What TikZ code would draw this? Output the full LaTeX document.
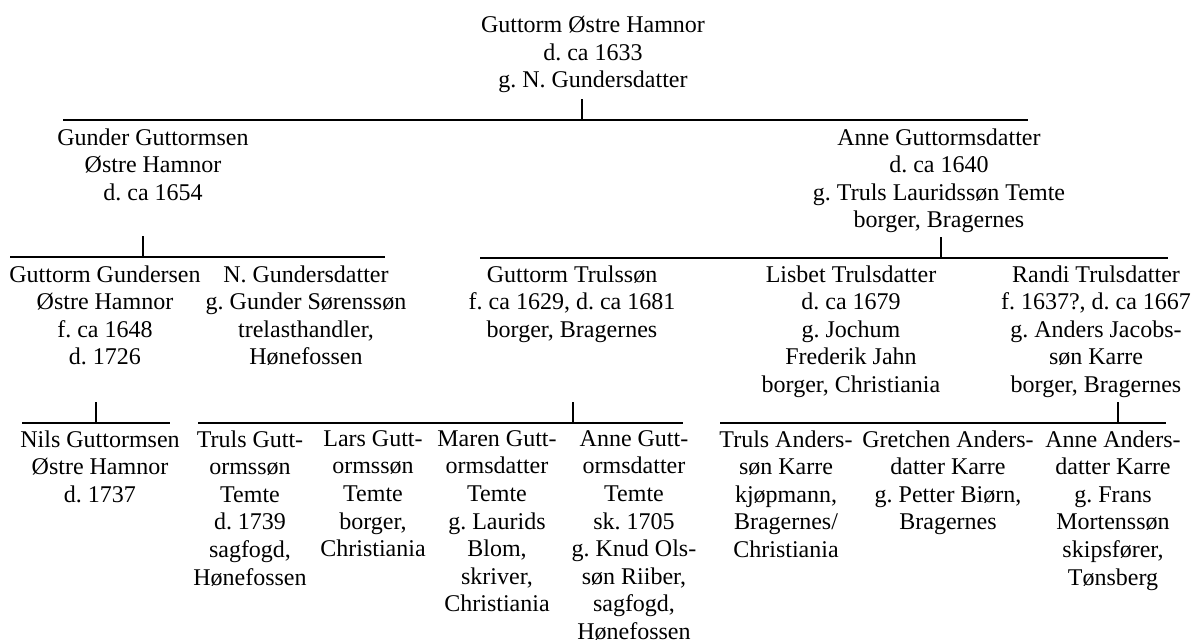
\documentclass[tikz,border=0pt]{standalone}
\usepackage{fontspec}
\setmainfont{Liberation Serif}
\frenchspacing

\begin{document}
\begin{tikzpicture}[x=0.5pt, y=-0.5pt,
    person/.style={anchor=north, align=center, inner sep=0pt, font=\fontsize{12}{13.8}\selectfont},
    bar/.style={line width=0.6pt}]

\useasboundingbox (0,0) rectangle (1196,642);

% Ancestor
\node[person] (guttorm) at (593, 16) {Guttorm Østre Hamnor\\d. ca 1633\\g. N. Gundersdatter};

% Children
\node[person] (gunder) at (153, 128) {Gunder Guttormsen\\Østre Hamnor\\d. ca 1654};
\node[person] (anne) at (939, 128) {Anne Guttormsdatter\\d. ca 1640\\g. Truls Lauridssøn Temte\\borger, Bragernes};

% Grandchildren
\node[person] (guttormG) at (105, 265) {Guttorm Gundersen\\Østre Hamnor\\f. ca 1648\\d. 1726};
\node[person] (ngd) at (306, 265) {N. Gundersdatter\\g. Gunder Sørenssøn\\trelasthandler,\\Hønefossen};
\node[person] (guttormT) at (572, 265) {Guttorm Trulssøn\\f. ca 1629, d. ca 1681\\borger, Bragernes};
\node[person] (lisbet) at (851, 265) {Lisbet Trulsdatter\\d. ca 1679\\g. Jochum\\Frederik Jahn\\borger, Christiania};
\node[person] (randi) at (1096, 265) {Randi Trulsdatter\\f. 1637?, d. ca 1667\\g. Anders Jacobs-\\søn Karre\\borger, Bragernes};

% Great-grandchildren
\node[person] (nils) at (100, 430) {Nils Guttormsen\\Østre Hamnor\\d. 1737};
\node[person] (truls) at (250, 430) {Truls Gutt-\\ormssøn\\Temte\\d. 1739\\sagfogd,\\Hønefossen};
\node[person] (lars) at (373, 430) {Lars Gutt-\\ormssøn\\Temte\\borger,\\Christiania};
\node[person] (maren) at (497, 430) {Maren Gutt-\\ormsdatter\\Temte\\g. Laurids\\Blom,\\skriver,\\Christiania};
\node[person] (anneG) at (634, 430) {Anne Gutt-\\ormsdatter\\Temte\\sk. 1705\\g. Knud Ols-\\søn Riiber,\\sagfogd,\\Hønefossen};
\node[person] (trulsA) at (786, 430) {Truls Anders-\\søn Karre\\kjøpmann,\\Bragernes/\\Christiania};
\node[person] (gretchen) at (948, 430) {Gretchen Anders-\\datter Karre\\g. Petter Biørn,\\Bragernes};
\node[person] (anneA) at (1113, 430) {Anne Anders-\\datter Karre\\g. Frans\\Mortenssøn\\skipsfører,\\Tønsberg};

% Family bars with ticks
\foreach \fam/\w/\e/\t/\y in {guttorm/63/1028/582/120, gunder/10/385/143/257,
    anne/480/1168/941/258, guttormG/22/170/96/423, guttormT/198/683/573/423,
    randi/720/1166/1118/423} {
    \coordinate (\fam-w) at (\w, \y);
    \coordinate (\fam-e) at (\e, \y);
    \coordinate (\fam-t) at (\t, \y);
    \draw[bar] (\fam-w) -- (\fam-e);
    \draw[bar] (\fam-t) -- ++(0, -21);
}

\end{tikzpicture}
\end{document}
